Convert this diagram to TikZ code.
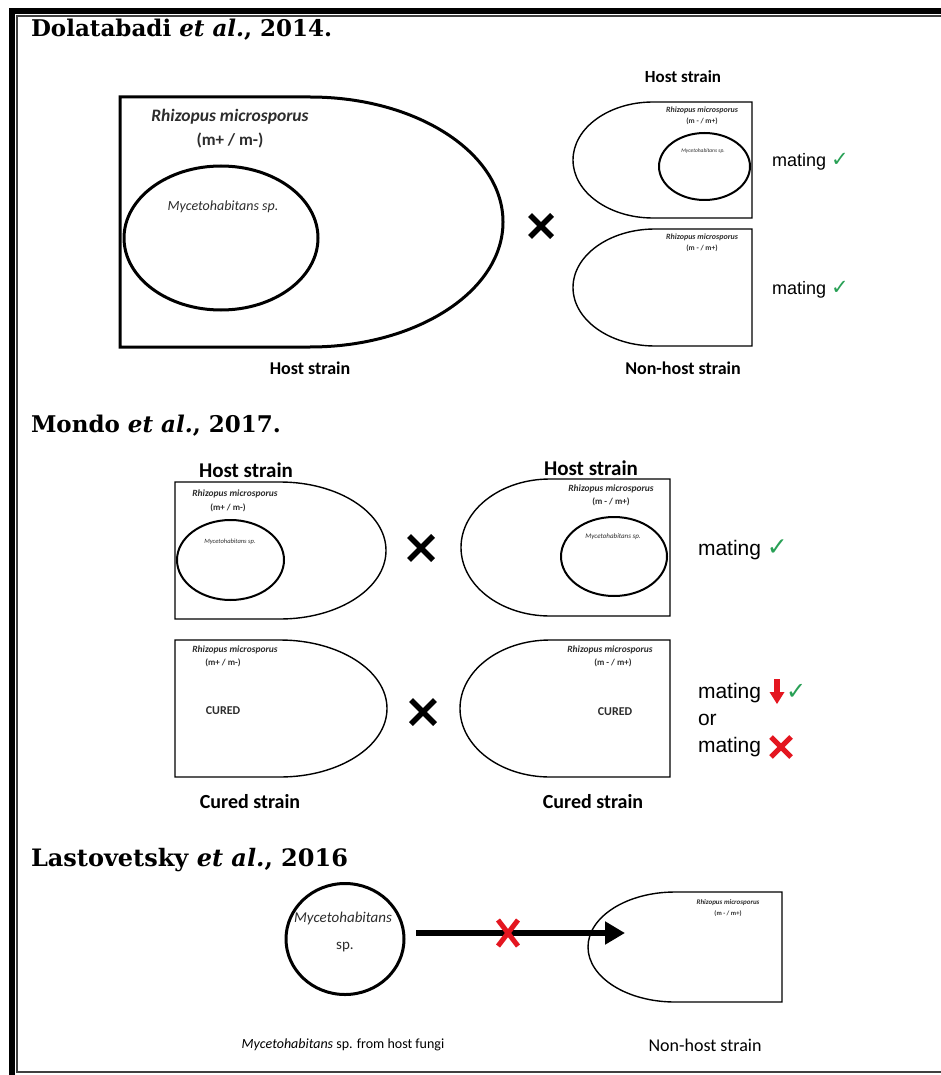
\documentclass[tikz,border=0pt]{standalone}
\usepackage{fontspec}
\setmainfont{Carlito}
\newfontfamily\headfont{DejaVu Serif}
\newfontfamily\labelfont{Liberation Sans}
\newfontfamily\symbolfont{DejaVu Sans}
\usetikzlibrary{shapes.geometric,arrows.meta}
\definecolor{okgreen}{RGB}{40,160,85}
\definecolor{nored}{RGB}{228,22,32}
\definecolor{inktext}{RGB}{45,45,45}
\newcommand\pxsize[1]{\fontsize{#1}{#1}\selectfont}
\newcommand\okmark[1]{\textcolor{okgreen}{\symbolfont\pxsize{#1}✓}}

\begin{document}
\begin{tikzpicture}[x=1pt,y=-1pt,
  every node/.style={inner sep=0pt,outer sep=0pt},
  heavy/.style={line width=3pt},
  thinout/.style={line width=1.4pt},
  bugline/.style={line width=2pt},
  heading/.style={anchor=base west,font=\headfont\pxsize{#1}\bfseries},
  rhiz/.style={font=\pxsize{#1}\bfseries\itshape,text=inktext},
  sexlabel/.style={font=\pxsize{#1}\bfseries,text=inktext},
  bug/.style={font=\pxsize{#1}\itshape,text=inktext},
  strain/.style={font=\pxsize{#1}\bfseries},
  mating/.style={anchor=base west,font=\labelfont\pxsize{#1}},
  crossline/.style={line width=5.5pt,line cap=butt},
  redcross/.style={line width=5pt,line cap=butt,draw=nored},
  bigarrow/.style={line width=6pt,-{Triangle[length=20pt,width=22pt]}},
]
\useasboundingbox (0,0) rectangle (941,1075);
\fill[white] (0,0) rectangle (941,1075);

% page frame: heavy outer rule and thin inner rule
\fill[black] (9,8) rectangle (941,14);
\fill[black] (9,8) rectangle (15,1075);
\draw[line width=1.3pt,black!75] (941,16) -- (17,16) -- (17,1072) -- (941,1072);

% ---------------- Dolatabadi et al., 2014 ----------------
\node[heading=23] (h1) at (31,37) {Dolatabadi \textit{et al.}, 2014.};

\draw[heavy] (120,97) -- (310,97)
  arc[start angle=90,end angle=-90,x radius=193pt,y radius=125pt] -- (120,347) -- cycle;
\draw[heavy] (221,238) ellipse[x radius=97pt,y radius=72pt];
\node[rhiz=17.5] (r1) at (230,117) {Rhizopus microsporus};
\node[sexlabel=17] (m1) at (230,140) {(m+ / m-)};
\node[bug=14] (b1) at (223,207) {Mycetohabitans sp.};
\node[strain=18] (hs1) at (310,368) {Host strain};

\draw[crossline] (530,215) -- (552,237) (530,237) -- (552,215);

\node[strain=17] (hs2) at (683,77) {Host strain};
\draw[thinout] (752,102) -- (653,102)
  arc[start angle=90,end angle=270,x radius=80pt,y radius=58pt] -- (752,218) -- cycle;
\draw[bugline] (704.5,166.5) ellipse[x radius=45.5pt,y radius=33.5pt];
\node[rhiz=8] (r2) at (702,110) {Rhizopus microsporus};
\node[sexlabel=7.5] (m2) at (702,121) {(m - / m+)};
\node[bug=5.5] (b2) at (703,151) {Mycetohabitans sp.};

\draw[thinout] (752,229) -- (655,229)
  arc[start angle=90,end angle=270,x radius=82pt,y radius=58.5pt] -- (752,346) -- cycle;
\node[rhiz=8] (r3) at (702,237) {Rhizopus microsporus};
\node[sexlabel=7.5] (m3) at (702,248) {(m - / m+)};
\node[strain=18] (nh1) at (683,368) {Non-host strain};

\node[mating=18] (mt1) at (772,167) {mating \okmark{21}};
\node[mating=18] (mt2) at (772,294) {mating \okmark{21}};

% ---------------- Mondo et al., 2017 ----------------
\node[heading=23] (h2) at (31,432) {Mondo \textit{et al.}, 2017.};

\node[strain=21] (hs3) at (246,470) {Host strain};
\node[strain=21] (hs4) at (591,468) {Host strain};

\draw[thinout] (175,482) -- (280,482)
  arc[start angle=90,end angle=-90,x radius=106pt,y radius=68.5pt] -- (175,619) -- cycle;
\draw[bugline] (230.5,560) ellipse[x radius=53.5pt,y radius=40pt];
\node[rhiz=9.5] (r4) at (235,494) {Rhizopus microsporus};
\node[sexlabel=9] (m4) at (228,508) {(m+ / m-)};
\node[bug=6.5] (b4) at (230,542) {Mycetohabitans sp.};

\draw[crossline] (409,536) -- (433,560) (409,560) -- (433,536);

\draw[thinout] (670,479) -- (550,479)
  arc[start angle=90,end angle=270,x radius=89pt,y radius=68.5pt] -- (670,616) -- cycle;
\draw[bugline] (614,556.5) ellipse[x radius=53pt,y radius=39.5pt];
\node[rhiz=9.5] (r5) at (611,489) {Rhizopus microsporus};
\node[sexlabel=9] (m5) at (611,502) {(m - / m+)};
\node[bug=7] (b5) at (613,537) {Mycetohabitans sp.};

\node[mating=21] (mt3) at (698,555) {mating \okmark{25}};

\draw[thinout] (175,640) -- (280,640)
  arc[start angle=90,end angle=-90,x radius=107pt,y radius=68.5pt] -- (175,777) -- cycle;
\node[rhiz=9.5] (r6) at (235,650) {Rhizopus microsporus};
\node[sexlabel=9] (m6) at (223,663) {(m+ / m-)};
\node[sexlabel=12] (c6) at (223,711) {CURED};

\draw[crossline] (411,700) -- (435,724) (411,724) -- (435,700);

\draw[thinout] (670,640) -- (550,640)
  arc[start angle=90,end angle=270,x radius=90pt,y radius=68.5pt] -- (670,777) -- cycle;
\node[rhiz=9.5] (r7) at (610,650) {Rhizopus microsporus};
\node[sexlabel=9] (m7) at (613,663) {(m - / m+)};
\node[sexlabel=12] (c7) at (615,712) {CURED};

\node[strain=20] (cs1) at (250,802) {Cured strain};
\node[strain=20] (cs2) at (593,802) {Cured strain};

\node[mating=21] (mt4) at (698,698) {mating};
\fill[nored] (774,679) rectangle (780,693);
\fill[nored] (769.5,692) -- (784.5,692) -- (777,704) -- cycle;
\node[anchor=base west] (ok4) at (786,699) {\okmark{24}};
\node[mating=21] (or1) at (698,725) {or};
\node[mating=21] (mt5) at (698,752) {mating};
\draw[redcross] (771,737) -- (791,757) (771,757) -- (791,737);

% ---------------- Lastovetsky et al., 2016 ----------------
\node[heading=24] (h3) at (31,866) {Lastovetsky \textit{et al.}, 2016};

\node[ellipse,draw,heavy,minimum width=118pt,minimum height=111pt] (bact) at (345,939) {};
\node[bug=15] (b8) at (343,918) {Mycetohabitans};
\node[font=\pxsize{15},text=inktext] (s8) at (345,947) {sp.};

\draw[thinout] (782,892) -- (675,892)
  arc[start angle=90,end angle=270,x radius=87pt,y radius=55pt] -- (782,1002) -- cycle;
\node[rhiz=7] (r8) at (728,903) {Rhizopus microsporus};
\node[sexlabel=6.5] (m8) at (728,914) {(m - / m+)};

\coordinate (tip) at (625,933);
\path (bact.east |- tip) ++(12pt,0) coordinate (tail);
\draw[bigarrow] (tail) -- (tip);
\draw[redcross] (498,920) -- (518,946) (518,920) -- (498,946);

\node[font=\pxsize{14}] (lab1) at (343,1045) {\textit{Mycetohabitans} sp. from host fungi};
\node[font=\pxsize{18}] (nh2) at (705,1045) {Non-host strain};
\end{tikzpicture}
\end{document}
